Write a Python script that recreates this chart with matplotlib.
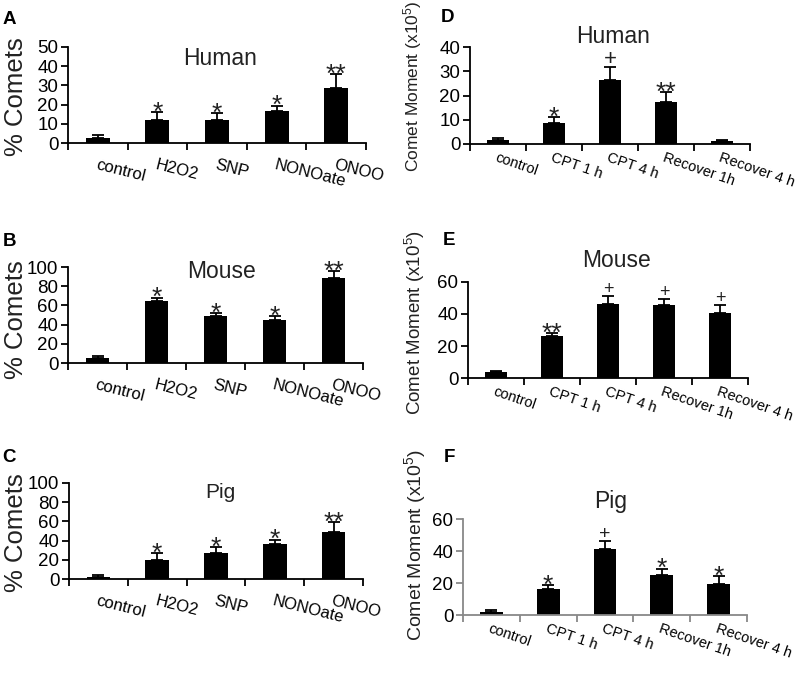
import matplotlib
matplotlib.use("Agg")
import matplotlib.pyplot as plt

plt.rcParams['font.family'] = ['Liberation Sans', 'DejaVu Sans']
plt.rcParams['mathtext.fontset'] = 'custom'
plt.rcParams['mathtext.rm'] = 'Liberation Sans'
plt.rcParams['mathtext.it'] = 'Liberation Sans'

# ---- data ----
left_categories = ["control", "H2O2", "SNP", "NONOate", "ONOO"]
right_categories = ["control", "CPT 1 h", "CPT 4 h", "Recover 1h", "Recover 4 h"]

human_comets = [2.5, 12, 12, 16.5, 28.5]
human_comets_err = [1.5, 4, 3.5, 3, 7.5]
human_comets_sig = ["", "*", "*", "*", "**"]

mouse_comets = [5, 65, 49, 45, 89]
mouse_comets_err = [2, 3, 3, 4, 7]
mouse_comets_sig = ["", "*", "*", "*", "**"]

pig_comets = [2, 20, 27, 36, 49]
pig_comets_err = [2, 7, 6, 5, 10]
pig_comets_sig = ["", "*", "*", "*", "**"]

human_moment = [1.5, 8.5, 26.3, 17.5, 1.2]
human_moment_err = [0.8, 2.5, 5.5, 4, 0.4]
human_moment_sig = ["", "*", "+", "**", ""]

mouse_moment = [3.5, 26.5, 46, 45.5, 40.5]
mouse_moment_err = [1, 1.5, 5.5, 4, 5]
mouse_moment_sig = ["", "**", "+", "+", "+"]

pig_moment = [2, 16.3, 41, 25, 19.3]
pig_moment_err = [1.3, 2.2, 5.5, 4, 5.2]
pig_moment_sig = ["", "*", "+", "*", "*"]

W, H = 800, 674
fig = plt.figure(figsize=(8, 6.74), dpi=100)


def make_axes(left, right, y0, ytop):
    return fig.add_axes([left / W, 1 - y0 / H, (right - left) / W, (y0 - ytop) / H])


def draw_panel(ax, cats, vals, errs, sigs, ymax, ystep, spine_color,
               title, tx, ty, tsize, lab_size, lab_rot, lab_off, plus_size):
    x = list(range(len(cats)))
    ax.bar(x, vals, width=0.4, color='black', zorder=2)
    ax.errorbar(x, vals, yerr=[[0] * len(vals), errs], fmt='none',
                ecolor='black', elinewidth=1.3, capsize=4.5, capthick=1.3, zorder=3)
    for xi, v, e, s in zip(x, vals, errs, sigs):
        if s:
            if s == "+":
                ax.annotate(s, (xi, v + e), xytext=(0, 1.5), textcoords='offset points',
                            ha='center', va='baseline', fontsize=plus_size, color='#222222')
            else:
                ax.annotate(s, (xi, v + e), xytext=(0, -5.5), textcoords='offset points',
                            ha='center', va='baseline', fontsize=19, color='#222222')
    ax.set_xlim(-0.5, len(cats) - 0.5)
    ax.set_ylim(0, ymax)
    ax.set_yticks(range(0, ymax + 1, ystep))
    ax.set_xticks([i - 0.5 for i in range(len(cats) + 1)])
    ax.set_xticklabels([])
    for sp in ['top', 'right']:
        ax.spines[sp].set_visible(False)
    for sp in ['left', 'bottom']:
        ax.spines[sp].set_color(spine_color)
        ax.spines[sp].set_linewidth(1.3)
    ax.tick_params(axis='both', colors=spine_color, width=1.3, length=5, direction='out')
    ax.tick_params(axis='y', labelcolor='black', labelsize=13.5, pad=2)
    for xi, c in zip(x, cats):
        ax.annotate(c, (xi, 0), xycoords=('data', 'axes fraction'),
                    xytext=(0, -lab_off), textcoords='offset points',
                    ha='left', va='top', rotation=-lab_rot, rotation_mode='anchor',
                    fontsize=lab_size, color='black')
    ax.text(tx, ty, title, transform=ax.transAxes, ha='center', va='center',
            fontsize=tsize, color='#222222')
    ax.set_facecolor('none')


axA = make_axes(68, 366, 143, 47)
draw_panel(axA, left_categories, human_comets, human_comets_err, human_comets_sig,
           50, 10, 'black', "Human", 0.51, 0.885, 16.5, 12, 14, 10, 15)
axB = make_axes(68, 363, 363, 267)
draw_panel(axB, left_categories, mouse_comets, mouse_comets_err, mouse_comets_sig,
           100, 20, 'black', "Mouse", 0.52, 0.95, 16.5, 12, 14, 10, 15)
axC = make_axes(69, 363, 579, 483)
draw_panel(axC, left_categories, pig_comets, pig_comets_err, pig_comets_sig,
           100, 20, 'black', "Pig", 0.515, 0.9, 15, 12, 14, 10, 15)

axD = make_axes(470, 750, 144, 47)
draw_panel(axD, right_categories, human_moment, human_moment_err, human_moment_sig,
           40, 10, 'black', "Human", 0.51, 1.11, 16.5, 10.5, 19, 5, 16)
axE = make_axes(468, 748, 378, 282)
draw_panel(axE, right_categories, mouse_moment, mouse_moment_err, mouse_moment_sig,
           60, 20, 'black', "Mouse", 0.53, 1.22, 16.5, 10.5, 19, 5, 13)
axF = make_axes(463, 747, 615, 519)
draw_panel(axF, right_categories, pig_moment, pig_moment_err, pig_moment_sig,
           60, 20, '#888888', "Pig", 0.52, 1.18, 16.5, 10.5, 19, 5, 14)

# y labels
for yc in [97, 320, 533]:
    fig.text(16 / W, 1 - yc / H, "% Comets", rotation=90, ha='center', va='center',
             fontsize=18.5, color='#222222')
for yc, xc, fs in [(86, 413, 12.5), (323, 415, 13.5), (545, 415, 14)]:
    fig.text(xc / W, 1 - yc / H, r"Comet Moment (x10$^{5}$)", rotation=90,
             ha='center', va='center', fontsize=fs, color='#222222')

# panel letters
for lab, (px, py) in zip("ABCDEF", [(9, 19), (9, 241), (9, 458), (447, 18), (449, 240), (449, 458)]):
    fig.text(px / W, 1 - py / H, lab, ha='center', va='center', fontsize=13.5,
             fontweight='bold', color='black')

fig.savefig("out.png", dpi=100)
